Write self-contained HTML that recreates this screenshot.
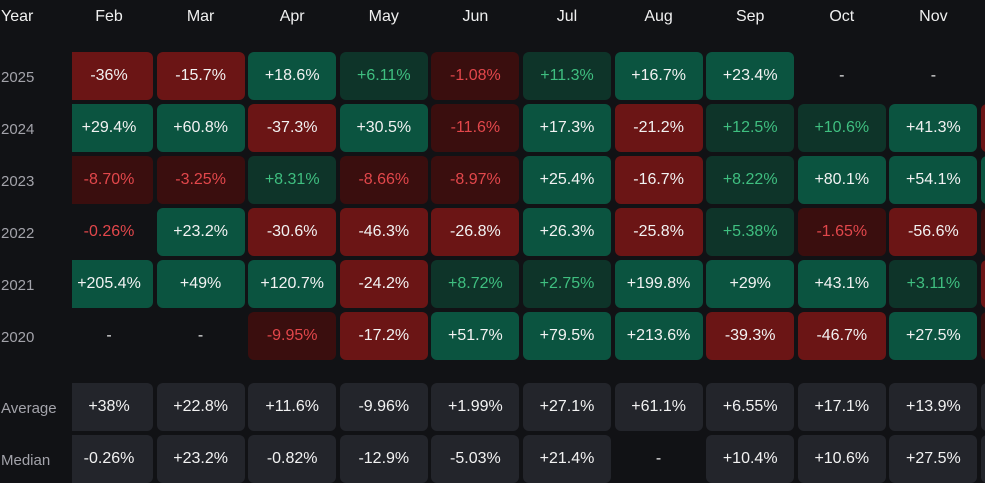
<!DOCTYPE html>
<html><head><meta charset="utf-8"><style>
body{margin:0;background:#111215;width:985px;height:483px;overflow:hidden;font-family:"Liberation Sans","Noto Sans CJK SC",sans-serif;}
#wrap{position:relative;width:985px;height:483px;overflow:hidden;}
.c{position:absolute;height:48px;border-radius:6px;display:flex;align-items:center;justify-content:center;font-size:16px;color:#f2f2f2;}
.h{position:absolute;top:8px;font-size:16px;color:#f0f0f0;text-align:center;width:88px;}
.y{position:absolute;left:1px;font-size:15px;color:#a3a3aa;}
#mask{position:absolute;left:0;top:0;width:72px;height:483px;background:#111215;}
</style></head><body>
<div id="wrap"></div>
<script>
const months=["Feb","Mar","Apr","May","Jun","Jul","Aug","Sep","Oct","Nov","Dec"];
const years=["2025","2024","2023","2022","2021","2020"];
const r2025=[-36,-15.7,18.6,6.11,-1.08,11.3,16.7,23.4,null,null,null];
const r2024=[29.4,60.8,-37.3,30.5,-11.6,17.3,-21.2,12.5,10.6,41.3,-20];
const r2023=[-8.70,-3.25,8.31,-8.66,-8.97,25.4,-16.7,8.22,80.1,54.1,20];
const r2022=[-0.26,23.2,-30.6,-46.3,-26.8,26.3,-25.8,5.38,-1.65,-56.6,-10];
const r2021=[205.4,49,120.7,-24.2,8.72,2.75,199.8,29,43.1,3.11,-20];
const r2020=[null,null,-9.95,-17.2,51.7,79.5,213.6,-39.3,-46.7,27.5,-10];
const labels2025=["-36%","-15.7%","+18.6%","+6.11%","-1.08%","+11.3%","+16.7%","+23.4%","-","-",""];
const labels2024=["+29.4%","+60.8%","-37.3%","+30.5%","-11.6%","+17.3%","-21.2%","+12.5%","+10.6%","+41.3%",""];
const labels2023=["-8.70%","-3.25%","+8.31%","-8.66%","-8.97%","+25.4%","-16.7%","+8.22%","+80.1%","+54.1%",""];
const labels2022=["-0.26%","+23.2%","-30.6%","-46.3%","-26.8%","+26.3%","-25.8%","+5.38%","-1.65%","-56.6%",""];
const labels2021=["+205.4%","+49%","+120.7%","-24.2%","+8.72%","+2.75%","+199.8%","+29%","+43.1%","+3.11%",""];
const labels2020=["-","-","-9.95%","-17.2%","+51.7%","+79.5%","+213.6%","-39.3%","-46.7%","+27.5%",""];
const avgLabels=["+38%","+22.8%","+11.6%","-9.96%","+1.99%","+27.1%","+61.1%","+6.55%","+17.1%","+13.9%",""];
const medLabels=["-0.26%","+23.2%","-0.82%","-12.9%","-5.03%","+21.4%","-","+10.4%","+10.6%","+27.5%",""];
const rows=[r2025,r2024,r2023,r2022,r2021,r2020];
const rowLabels=[labels2025,labels2024,labels2023,labels2022,labels2021,labels2020];

const W=document.getElementById('wrap');
const colX=i=>65+i*91.6;
const rowY=j=>52+j*52;
function mk(cls,txt,x,y){const d=document.createElement('div');d.className=cls;d.textContent=txt;d.style.left=x+'px';d.style.top=y+'px';W.appendChild(d);return d;}

months.forEach((m,i)=>{const h=mk('h',m,colX(i),8);

});

rows.forEach((row,j)=>{row.forEach((v,i)=>{
  const d=mk('c',rowLabels[j][i],colX(i),rowY(j));d.style.width='88px';
  
  
  if(v===null){d.style.color='#e8e8e8';return;}
  const a=Math.abs(v);
  if(a>=15){d.style.background=v>0?'#0b5440':'#6b1515';}
  else if(a>=0.5){d.style.background=v>0?'#0e3429':'#3a0e0e';d.style.color=v>0?'#3fbf80':'#e2474b';}
  else{d.style.color='#e2474b';}
});});

function statRow(lbls,y,name){lbls.forEach((t,i)=>{
  const d=mk('c',t,colX(i),y);d.style.width='88px';
  
  
  if(t!=='-')d.style.background='#23252b';
});}
statRow(avgLabels,383,'average');
statRow(medLabels,435,'median');

const mask=document.createElement('div');mask.id='mask';W.appendChild(mask);


const yh=mk('y','Year',1,8);yh.style.color='#f0f0f0';yh.style.fontSize='16px';


years.forEach((y,j)=>{const d=mk('y',y,1,rowY(j)+17);

});
const al=mk('y','Average',1,400);


const ml=mk('y','Median',1,452);


</script>
</body></html>
